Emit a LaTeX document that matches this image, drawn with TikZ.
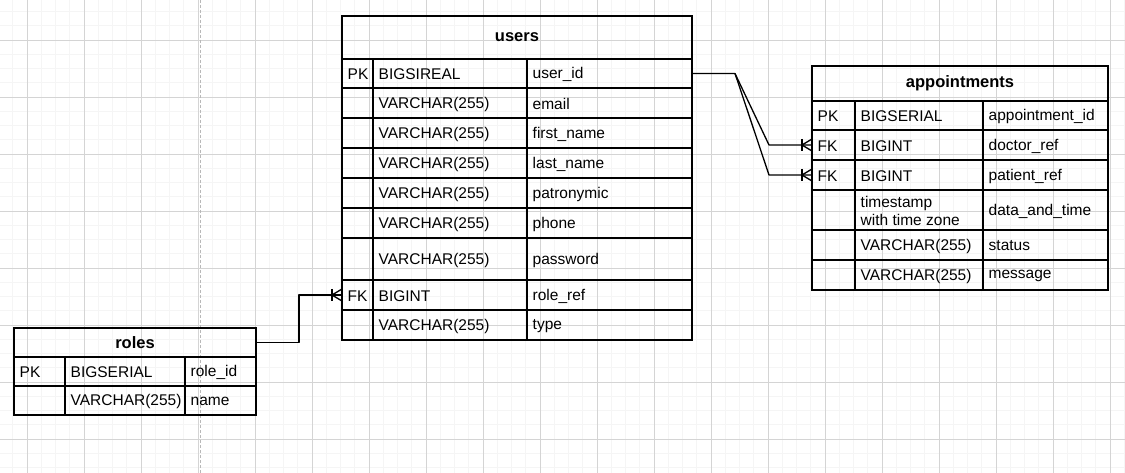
\documentclass[tikz,border=0pt]{standalone}
\usepackage{fontspec}
\setmainfont{Liberation Sans}

% one table cell: name, x, y (top left), width, height, text
\newcommand{\ercell}[6]{%
  \node[cell, minimum width=#4pt, minimum height=#5pt,
        label={[celltext]west:{#6}}] (#1) at (#2,#3) {};}
% bar and crow's foot in front of a node anchor
\newcommand{\crowsfoot}[1]{%
  \draw[link] (#1) ++(-10,-6) -- ++(0,12);
  \draw[link] (#1) ++(0,-6) -- ++(-10,6) -- ++(10,6);}

\begin{document}
\begin{tikzpicture}[
            x = 1pt, y = -1pt, % pixel coordinates, y goes down
            cell/.style = {draw, line width=1.2pt, anchor=north west,
                           inner sep=0pt, outer sep=0pt},
            celltext/.style = {anchor=west, inner xsep=5.5pt, inner ysep=0pt, yshift=-1pt,
                               align=left, font=\fontsize{15.5}{18}\selectfont},
            head/.style = {cell, font=\fontsize{16.5}{20}\selectfont\bfseries},
            link/.style = {line width=1.3pt, line join=round},
            minorgrid/.style = {line width=0.6pt, black!4},
            majorgrid/.style = {line width=0.8pt, black!17},
            pageline/.style = {line width=1pt, black!28, dash pattern=on 3pt off 2pt}
        ]

	\useasboundingbox (0,0) rectangle (1125,473);
	\fill[white] (0,0) rectangle (1125,473);

	% background grid
	\foreach \gx in {12.75,27,...,1125} \draw[minorgrid] (\gx,0) -- (\gx,473);
	\foreach \gy in {11.5,25.75,...,473} \draw[minorgrid] (0,\gy) -- (1125,\gy);
	\foreach \gx in {27,84,...,1125} \draw[majorgrid] (\gx,0) -- (\gx,473);
	\foreach \gy in {40,97,...,473} \draw[majorgrid] (0,\gy) -- (1125,\gy);
	\draw[pageline] (200,0) -- (200,473);

	% users
	\node[head, minimum width=350pt, minimum height=43pt] (users) at (342,16) {users};
	\foreach \n/\key/\type/\field/\top/\h in {
	    1/PK/BIGSIREAL/user\_id/59/29,
	    2//VARCHAR(255)/email/88/30,
	    3//VARCHAR(255)/first\_name/118/30,
	    4//VARCHAR(255)/last\_name/148/30,
	    5//VARCHAR(255)/patronymic/178/30,
	    6//VARCHAR(255)/phone/208/30,
	    7//VARCHAR(255)/password/238/42,
	    8/FK/BIGINT/role\_ref/280/30,
	    9//VARCHAR(255)/type/310/30} {
	  \ercell{users-\n-key}{342}{\top}{31}{\h}{\key}
	  \ercell{users-\n-type}{373}{\top}{154}{\h}{\type}
	  \ercell{users-\n-field}{527}{\top}{165}{\h}{\field}
	}
	\draw[line width=2pt] (users-1-key.south west) -- (users-1-field.south east);

	% appointments
	\node[head, minimum width=296pt, minimum height=35pt] (appts) at (812,66) {appointments};
	\foreach \n/\key/\type/\field/\top/\h in {
	    1/PK/BIGSERIAL/appointment\_id/101/29,
	    2/FK/BIGINT/doctor\_ref/130/30,
	    3/FK/BIGINT/patient\_ref/160/30,
	    4//timestamp\\with time zone/data\_and\_time/190/40,
	    5//VARCHAR(255)/status/230/30,
	    6//VARCHAR(255)/message/260/30} {
	  \ercell{appts-\n-key}{812}{\top}{43}{\h}{\key}
	  \ercell{appts-\n-type}{855}{\top}{128}{\h}{\type}
	  \ercell{appts-\n-field}{983}{\top}{125}{\h}{\field}
	}
	\draw[line width=2pt] (appts-1-key.south west) -- (appts-1-field.south east);

	% roles
	\node[head, minimum width=242pt, minimum height=29pt] (roles) at (14,328) {roles};
	\foreach \n/\key/\type/\field/\top/\h in {
	    1/PK/BIGSERIAL/role\_id/357/29,
	    2//VARCHAR(255)/name/386/29} {
	  \ercell{roles-\n-key}{14}{\top}{51}{\h}{\key}
	  \ercell{roles-\n-type}{65}{\top}{120}{\h}{\type}
	  \ercell{roles-\n-field}{185}{\top}{71}{\h}{\field}
	}
	\draw[line width=2pt] (roles-1-key.south west) -- (roles-1-field.south east);

	% relations
	\draw[link] (users-1-field.east) -- ++(43,0) coordinate (fork)
	    -- ([xshift=-43pt]appts-2-key.west) -- (appts-2-key.west);
	\draw[link] (fork) -- ([xshift=-43pt]appts-3-key.west) -- (appts-3-key.west);
	\crowsfoot{appts-2-key.west}
	\crowsfoot{appts-3-key.west}
	\draw[link] (roles.east) -- ++(43,0) |- (users-8-key.west);
	\crowsfoot{users-8-key.west}

\end{tikzpicture}
\end{document}
